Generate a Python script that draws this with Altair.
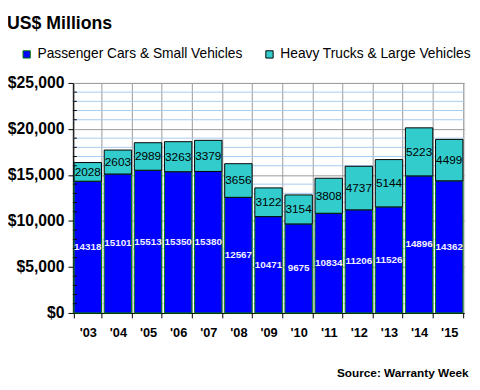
import altair as alt
import pandas as pd

years = ["'03", "'04", "'05", "'06", "'07", "'08", "'09", "'10", "'11", "'12", "'13", "'14", "'15"]
passenger = [14318, 15101, 15513, 15350, 15380, 12567, 10471, 9675, 10834, 11206, 11526, 14896, 14362]
heavy = [2028, 2603, 2989, 3263, 3379, 3656, 3122, 3154, 3808, 4737, 5144, 5223, 4499]
series_names = ["Passenger Cars & Small Vehicles", "Heavy Trucks & Large Vehicles"]
y_major = [0, 5000, 10000, 15000, 20000, 25000]
y_minor = [v for v in range(1000, 25000, 1000) if v % 5000 != 0]

FONT = "Liberation Sans"

rows = []
for i, yr in enumerate(years):
    p, h = passenger[i], heavy[i]
    rows.append({"year": yr, "series": series_names[0], "value": p, "order": 0,
                 "mid": p / 2})
    rows.append({"year": yr, "series": series_names[1], "value": h, "order": 1,
                 "mid": p + h / 2})
df = pd.DataFrame(rows)
minor_df = pd.DataFrame({"v": y_minor})

x_enc = alt.X("year:N", sort=years, title="Source: Warranty Week",
              scale=alt.Scale(paddingInner=0.09, paddingOuter=0.04),
              axis=alt.Axis(labelAngle=0, labelFont=FONT, labelFontSize=13, labelFontWeight="bold",
                            labelColor="black", labelPadding=9, tickBand="extent",
                            grid=True, gridColor="#999999", gridWidth=1,
                            domainColor="black", tickColor="black", tickSize=5,
                            titleFont=FONT, titleFontSize=12, titleFontWeight="bold",
                            titleColor="black", titleAnchor="end", titleAlign="right",
                            titleX=402, titleY=61, titleBaseline="middle"))
y_scale = alt.Scale(domain=[0, 25000], nice=False)

minor_grid = alt.Chart(minor_df).mark_rule(color="#A6CAF0", strokeWidth=1).encode(
    y=alt.Y("v:Q", scale=y_scale)
)
minor_ticks = alt.Chart(minor_df).mark_rule(color="black", strokeWidth=1).encode(
    y=alt.Y("v:Q", scale=y_scale), x=alt.value(0), x2=alt.value(4)
)

bars = alt.Chart(df).mark_bar(strokeWidth=1).encode(
    x=x_enc,
    y=alt.Y("sum(value):Q", scale=y_scale, title=None,
            axis=alt.Axis(values=y_major, format="$,.0f", labelFont=FONT, labelFontSize=16,
                          labelFontWeight="bold", labelColor="black", labelPadding=4,
                          grid=True, gridColor="#999999", domainColor="black",
                          tickColor="black", tickSize=5)),
    color=alt.Color("series:N", sort=series_names,
                    scale=alt.Scale(domain=series_names, range=["#0000FF", "#33CCCC"]),
                    legend=alt.Legend(title=None, orient="none", direction="horizontal",
                                      legendX=-54, legendY=-36, symbolType="square",
                                      symbolSize=55, symbolStrokeColor="black",
                                      symbolStrokeWidth=1, labelFont=FONT, labelFontSize=14,
                                      labelColor="black", labelLimit=400, columnPadding=20,
                                      symbolOpacity=1, padding=0, labelOffset=4)),
    stroke=alt.Stroke("series:N", scale=alt.Scale(domain=series_names, range=["#008000", "#000000"]),
                      legend=None),
    order=alt.Order("order:Q"),
)

low_text = alt.Chart(df[df["order"] == 0]).mark_text(
    font=FONT, fontSize=10, fontWeight="bold", color="#F0F0FF"
).encode(x=alt.X("year:N", sort=years), y=alt.Y("mid:Q", scale=y_scale), text="value:Q")

high_text = alt.Chart(df[df["order"] == 1]).mark_text(
    font=FONT, fontSize=12, color="black"
).encode(x=alt.X("year:N", sort=years), y=alt.Y("mid:Q", scale=y_scale), text="value:Q")

chart = alt.layer(minor_grid, bars, minor_ticks, low_text, high_text).properties(
    width=398, height=234, autosize="none",
    padding={"left": 66, "top": 73, "right": 8, "bottom": 67},
    title=alt.TitleParams("US$ Millions", anchor="start", frame="group", dx=-67,
                          font=FONT, fontSize=18, fontWeight="bold", color="black",
                          baseline="bottom", offset=-3),
).configure_view(stroke="#999999").configure(background="white")

chart.save("out.html", embed_options={"renderer": "svg", "actions": False})
